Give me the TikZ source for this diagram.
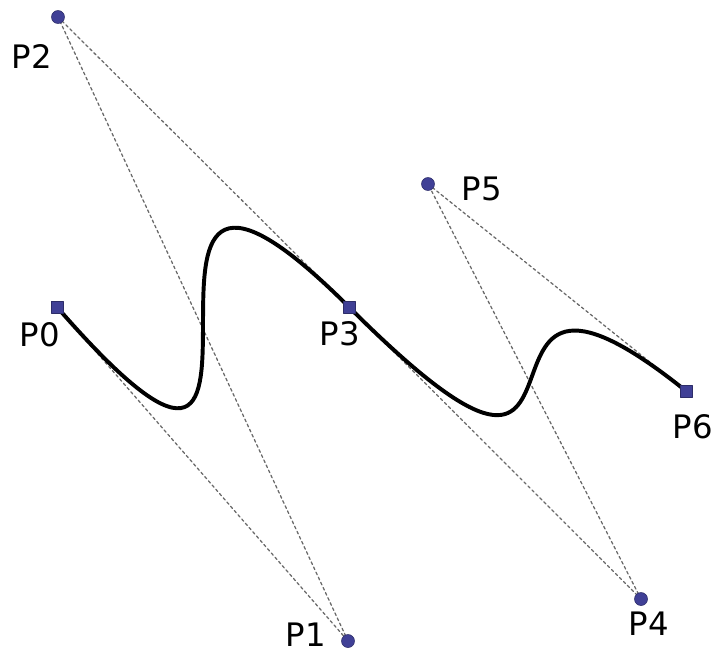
\documentclass[tikz,border=0pt]{standalone}
\usepackage{fontspec}
\setmainfont{DejaVu Sans}
\definecolor{ptblue}{RGB}{64,64,150}
\definecolor{guidegray}{RGB}{105,105,105}
\begin{document}
\begin{tikzpicture}[x=0.025cm,y=-0.025cm,line join=round,line cap=round,
	every node/.style={font=\fontsize{23}{27}\selectfont,inner sep=0pt},
	guide/.style={guidegray,line width=0.9pt,dash pattern=on 2pt off 2pt},
	curve/.style={black,line width=2.8pt},
	endpt/.style={fill=ptblue,draw=ptblue!70!black,line width=0.4pt},
	ctrlpt/.style={fill=ptblue,draw=ptblue!70!black,line width=0.4pt}]
	\useasboundingbox (0,0) rectangle (714,653);
	%%Các điểm
	\coordinate (P0) at (57,307);
	\coordinate (P1) at (348,641);
	\coordinate (P2) at (58,17);
	\coordinate (P3) at (349,307);
	\coordinate (P4) at (641,599);
	\coordinate (P5) at (428,184);
	\coordinate (P6) at (686,391);
	%%Đường gióng
	\draw[guide] (P0) -- (P1);
	\draw[guide] (P1) -- (P2);
	\draw[guide] (P2) -- (P3);
	\draw[guide] (P3) -- (P4);
	\draw[guide] (P4) -- (P5);
	\draw[guide] (P5) -- (P6);
	%%Đường cong
	\draw[curve] (P0) .. controls (P1) and (P2) .. (P3);
	\draw[curve] (P3) .. controls (P4) and (P5) .. (P6);
	%%Điểm đầu mút
	\foreach \p in {P0,P3,P6}
		\draw[endpt] ([shift={(-6,-6)}]\p) rectangle ([shift={(6,6)}]\p);
	%%Điểm điều khiển
	\foreach \p in {P1,P2,P4,P5}
		\draw[ctrlpt] (\p) circle (6.5);
	%%Nhãn
	\node (lP0) at (40,335) {P0};
	\node (lP1) at (306,635) {P1};
	\node (lP2) at (32,56) {P2};
	\node (lP3) at (340,334) {P3};
	\node (lP4) at (649,624) {P4};
	\node (lP5) at (482,189) {P5};
	\node (lP6) at (693,427) {P6};
\end{tikzpicture}
\end{document}
